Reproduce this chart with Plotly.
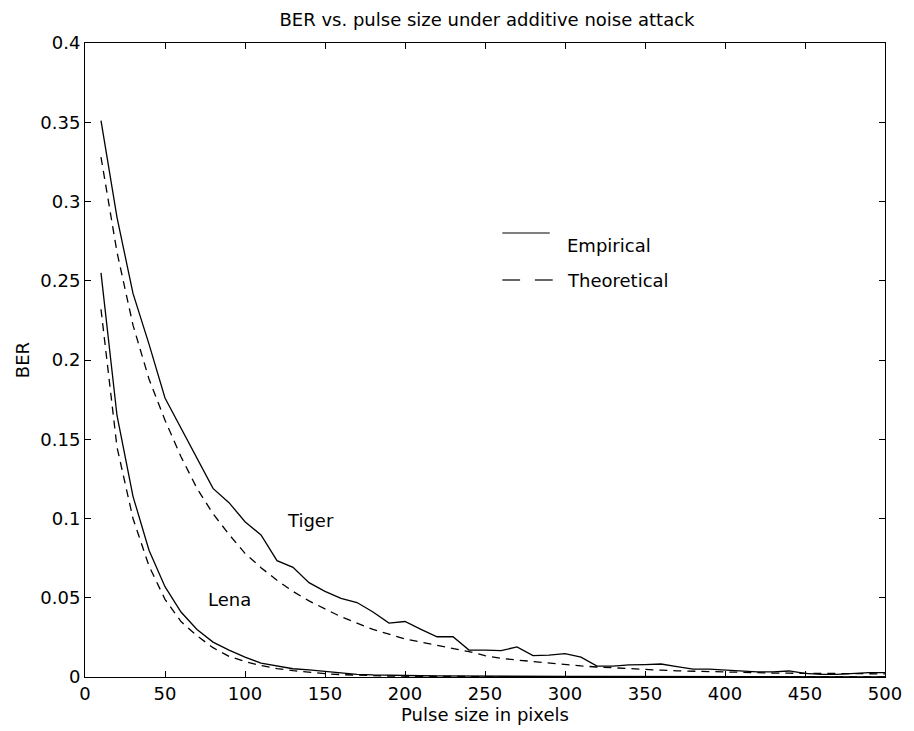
import plotly.graph_objects as go

pulse = list(range(10, 510, 10))

tiger_emp = [0.351, 0.290, 0.242, 0.210, 0.176, 0.157, 0.137, 0.119, 0.110, 0.098,
             0.0896, 0.0734, 0.0692, 0.0595, 0.054, 0.0496, 0.047, 0.041, 0.034, 0.035,
             0.030, 0.0254, 0.0254, 0.017, 0.017, 0.0166, 0.019, 0.0135, 0.0138, 0.0147,
             0.0125, 0.0069, 0.0069, 0.0076, 0.0078, 0.0082, 0.0065, 0.005, 0.005, 0.0044,
             0.0034, 0.0032, 0.0032, 0.0038, 0.0023, 0.0017, 0.0017, 0.0023, 0.0027, 0.0027]

tiger_theo = [0.328, 0.268, 0.222, 0.188, 0.162, 0.139, 0.119, 0.103, 0.090, 0.078,
              0.069, 0.061, 0.054, 0.048, 0.043, 0.038, 0.034, 0.030, 0.027, 0.024,
              0.022, 0.020, 0.018, 0.016, 0.0135, 0.0118, 0.0107, 0.0097, 0.0087, 0.0078,
              0.0070, 0.0063, 0.0057, 0.0052, 0.0047, 0.0043, 0.0039, 0.0036, 0.0033, 0.0030,
              0.0028, 0.0026, 0.0025, 0.0024, 0.0023, 0.0022, 0.0021, 0.0021, 0.0020, 0.0020]

lena_emp = [0.255, 0.165, 0.114, 0.080, 0.057, 0.041, 0.030, 0.022, 0.017, 0.0125,
            0.0088, 0.0072, 0.0052, 0.0045, 0.0036, 0.0025, 0.0017, 0.0013, 0.001, 0.0009,
            0.0008, 0.0007, 0.0006, 0.0006, 0.0005, 0.0005, 0.0004, 0.0004, 0.0004, 0.0003,
            0.0003, 0.0003, 0.0003, 0.0002, 0.0002, 0.0002, 0.0002, 0.0002, 0.0002, 0.0001,
            0.0001, 0.0001, 0.0001, 0.0001, 0.0001, 0.0001, 0.0001, 0.0001, 0.0001, 0.0001]

lena_theo = [0.232, 0.145, 0.100, 0.070, 0.049, 0.035, 0.026, 0.0185, 0.013, 0.0098,
             0.0072, 0.0053, 0.0040, 0.0029, 0.0021, 0.0015, 0.0011, 0.0008, 0.0006, 0.0005,
             0.0004, 0.0003, 0.0003, 0.0002, 0.0002, 0.0002, 0.0001, 0.0001, 0.0001, 0.0001,
             0.0001, 0.0001, 0.0001, 0.0001, 0.0001, 0.0001, 0.0001, 0.0001, 0.0001, 0.0001,
             0.0001, 0.0001, 0.0001, 0.0001, 0.0001, 0.0001, 0.0001, 0.0001, 0.0001, 0.0001]

x_ticks = [0, 50, 100, 150, 200, 250, 300, 350, 400, 450, 500]
y_ticks = [0, 0.05, 0.1, 0.15, 0.2, 0.25, 0.3, 0.35, 0.4]
y_tick_labels = ["0", "0.05", "0.1", "0.15", "0.2", "0.25", "0.3", "0.35", "0.4"]

FONT = "DejaVu Sans, sans-serif"
FS = 18
solid = dict(color="black", width=1.3)
dashed = dict(color="black", width=1.3, dash="8px,6px")

fig = go.Figure()
fig.add_trace(go.Scatter(x=pulse, y=tiger_emp, mode="lines", line=solid, showlegend=False))
fig.add_trace(go.Scatter(x=pulse, y=tiger_theo, mode="lines", line=dashed, showlegend=False))
fig.add_trace(go.Scatter(x=pulse, y=lena_emp, mode="lines", line=solid, showlegend=False))
fig.add_trace(go.Scatter(x=pulse, y=lena_theo, mode="lines", line=dashed, showlegend=False))

axis_common = dict(
    showgrid=False, zeroline=False, showline=True, linecolor="black", linewidth=1,
    mirror="allticks", ticks="inside", ticklen=6, tickcolor="black", tickwidth=1,
    tickfont=dict(family=FONT, size=FS, color="black"),
)

fig.update_xaxes(range=[0, 500], tickvals=x_ticks, **axis_common,
                 title=dict(text="Pulse size in pixels", font=dict(family=FONT, size=FS, color="black"), standoff=0))
fig.update_yaxes(range=[0, 0.4], tickvals=y_ticks, ticktext=y_tick_labels, **axis_common,
                 title=dict(text="BER", font=dict(family=FONT, size=FS, color="black"), standoff=6))

# Curve labels
fig.add_annotation(x=141, y=0.099, text="Tiger", showarrow=False, xref="x", yref="y",
                   font=dict(family=FONT, size=FS, color="black"))
fig.add_annotation(x=90, y=0.049, text="Lena", showarrow=False, xref="x", yref="y",
                   font=dict(family=FONT, size=FS, color="black"))

# Legend drawn manually (paper coords)
L, R, T, B = 85, 894, 43, 677
W, H = R - L, B - T
def px(xp):
    return (xp - L) / W
def py(yp):
    return (B - yp) / H

fig.add_shape(type="line", xref="paper", yref="paper", x0=px(507), x1=px(555), y0=py(233), y1=py(233),
              line=dict(color="black", width=1.2))
fig.add_shape(type="line", xref="paper", yref="paper", x0=px(507), x1=px(525), y0=py(280), y1=py(280),
              line=dict(color="black", width=1.2))
fig.add_shape(type="line", xref="paper", yref="paper", x0=px(540), x1=px(558), y0=py(280), y1=py(280),
              line=dict(color="black", width=1.2))
fig.add_annotation(x=px(570), y=py(233), xref="paper", yref="paper", text="Empirical", showarrow=False,
                   xanchor="left", font=dict(family=FONT, size=FS, color="black"))
fig.add_annotation(x=px(570), y=py(280), xref="paper", yref="paper", text="Theoretical", showarrow=False,
                   xanchor="left", font=dict(family=FONT, size=FS, color="black"))

fig.update_layout(
    width=914, height=731,
    margin=dict(l=85, r=20, t=43, b=54),
    paper_bgcolor="white", plot_bgcolor="white",
    title=dict(text="BER vs. pulse size under additive noise attack", x=487 / 914, xanchor="center",
               y=1 - 20 / 731, yanchor="middle", font=dict(family=FONT, size=FS, color="black")),
    showlegend=False,
)

fig.write_html("out.html", config={"displayModeBar": False},
               post_script="document.body.style.margin='0';")
